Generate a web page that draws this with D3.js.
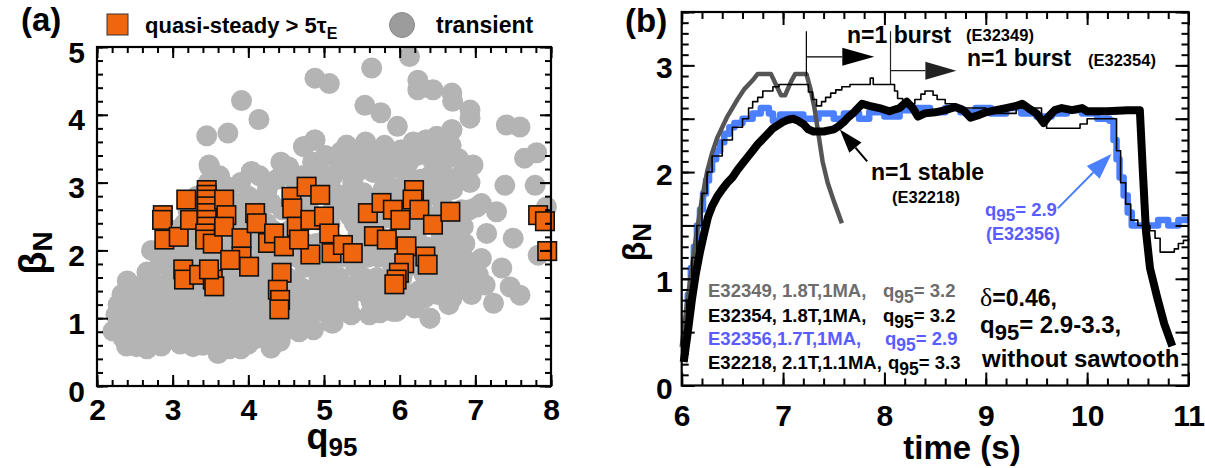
<!DOCTYPE html>
<html><head><meta charset="utf-8">
<script src="https://cdn.jsdelivr.net/npm/d3@7"></script>
<style>
body{margin:0;background:#fff}
svg{display:block;font-family:"Liberation Sans",Arial,sans-serif;font-weight:bold}
</style></head><body>
<svg id="fig" width="1205" height="468"></svg>
<script>
// ---------------- data ----------------
// panel (a): beta_N versus q95
const q95Ticks = [2, 3, 4, 5, 6, 7, 8];
const betaTicksA = [0, 1, 2, 3, 4, 5];

// transient discharges [q95, betaN]
const transient = [
  [2.21,0.81],[2.3,0.95],[2.35,0.7],[2.39,0.59],[2.42,1.1],[2.44,1.37],[2.48,0.85],[2.52,0.58],[2.55,1.25],[2.58,1.0],[2.6,1.5],[2.62,0.72],
  [2.28,1.2],[2.36,0.88],[2.5,1.45],[2.56,0.75],[2.64,1.35],[2.7,1.6],[2.74,1.0],[2.82,1.4],[2.88,1.05],[2.94,1.75],[2.98,1.35],[2.6,0.9],[2.46,1.0],[2.8,0.78],
  [2.66,1.68],[2.68,1.2],[2.7,0.88],[2.72,2.0],[2.75,1.45],[2.78,0.65],[2.8,1.05],[2.83,1.8],[2.85,0.59],[2.86,1.3],[2.9,2.05],[2.92,0.9],[2.95,1.55],[2.97,1.15],[3.0,0.7],[3.0,1.85],
  [3.05,2.3],[3.07,1.0],[3.1,1.4],[3.12,0.75],[3.15,2.0],[3.18,1.7],[3.2,2.6],[3.21,0.75],[3.25,1.2],[3.28,2.25],[3.3,0.95],[3.32,2.8],[3.35,1.55],[3.38,1.85],[3.4,0.6],[3.42,2.45],[3.45,1.1],[3.47,3.0],[3.48,3.26],[3.5,2.1],[3.52,0.85],[3.55,1.4],[3.58,2.7],[3.6,0.48],[3.6,1.7],[3.62,3.1],
  [3.02,1.2],[3.05,0.9],[3.1,1.8],[3.13,1.15],[3.16,2.4],[3.2,0.95],[3.24,1.5],[3.26,1.95],[3.3,2.55],[3.33,1.35],[3.36,0.8],[3.4,2.0],[3.43,1.65],[3.46,2.7],[3.5,1.25],[3.53,2.4],[3.56,0.65],[3.58,1.95],[3.4,1.05],[3.2,1.25],
  [3.65,2.35],[3.68,1.0],[3.7,2.95],[3.72,0.65],[3.75,1.3],[3.78,2.1],[3.8,2.6],[3.82,1.6],[3.85,0.85],[3.88,1.9],[3.9,3.0],[3.92,0.7],[3.93,1.2],[3.95,2.4],[3.98,1.5],[4.0,2.8],[4.02,0.95],
  [3.62,1.2],[3.66,2.0],[3.7,0.85],[3.74,1.5],[3.76,2.75],[3.8,1.05],[3.84,2.25],[3.86,1.35],[3.9,0.55],[3.92,2.7],[3.96,1.05],[3.98,2.1],[3.7,1.75],[3.64,2.6],
  [4.04,3.16],[4.06,1.75],[4.08,2.2],[4.1,1.05],[4.12,2.55],[4.15,3.1],[4.18,1.35],[4.2,0.75],[4.22,2.0],[4.25,2.9],[4.28,1.6],[4.3,0.56],[4.32,2.3],[4.35,1.1],[4.38,3.05],[4.4,1.85],[4.42,0.66],[4.45,2.6],[4.48,1.3],[4.5,3.2],
  [4.03,1.3],[4.06,2.45],[4.1,0.7],[4.13,1.55],[4.16,2.75],[4.2,1.15],[4.24,2.4],[4.27,0.9],[4.3,2.7],[4.33,1.45],[4.36,2.05],[4.4,1.05],[4.43,3.3],[4.46,2.25],[4.48,0.9],[4.14,1.85],[4.34,1.75],
  [4.53,3.23],[4.55,0.87],[4.57,2.0],[4.6,1.55],[4.62,2.85],[4.65,1.05],[4.68,2.35],[4.7,3.1],[4.73,3.53],[4.75,1.75],[4.78,0.95],[4.8,2.6],[4.82,1.3],[4.85,3.3],[4.86,0.83],[4.88,3.63],[4.9,2.1],[4.93,1.55],[4.95,2.9],[4.98,1.1],
  [4.52,1.6],[4.55,2.3],[4.58,1.2],[4.61,2.55],[4.64,1.9],[4.67,0.8],[4.7,1.45],[4.72,2.7],[4.76,2.1],[4.8,1.1],[4.83,3.0],[4.86,1.75],[4.9,1.35],[4.92,2.45],[4.96,3.15],[4.98,1.9],[4.6,3.05],
  [5.02,3.4],[5.05,1.8],[5.08,2.4],[5.1,0.93],[5.12,3.1],[5.15,1.35],[5.18,2.75],[5.2,1.6],[5.22,3.45],[5.25,3.23],[5.28,2.05],[5.3,3.55],[5.32,1.2],[5.35,2.5],[5.38,3.0],[5.39,3.28],[5.42,1.75],[5.45,2.25],[5.48,3.4],[5.5,1.4],
  [5.02,1.25],[5.05,2.2],[5.08,1.55],[5.1,2.9],[5.14,1.1],[5.16,2.1],[5.2,3.2],[5.23,1.9],[5.26,2.6],[5.3,1.45],[5.33,2.85],[5.36,1.05],[5.4,2.4],[5.43,3.15],[5.46,1.55],[5.48,2.7],[5.12,2.6],
  [5.52,2.85],[5.55,3.6],[5.58,1.9],[5.6,2.4],[5.62,1.25],[5.65,3.15],[5.68,2.65],[5.7,1.6],[5.72,3.36],[5.74,1.1],[5.76,2.15],[5.78,2.9],[5.8,3.55],[5.82,1.45],[5.85,2.5],[5.88,3.2],[5.89,1.12],[5.9,1.8],[5.92,2.75],[5.95,3.45],[5.97,1.3],[6.0,2.3],
  [5.52,1.6],[5.56,2.15],[5.58,3.3],[5.62,2.7],[5.66,1.45],[5.68,3.45],[5.72,1.9],[5.75,2.45],[5.78,1.3],[5.82,3.0],[5.84,2.0],[5.87,1.55],[5.9,3.4],[5.93,2.45],[5.96,1.1],[5.98,2.9],[5.6,1.05],
  [6.02,3.48],[6.03,1.6],[6.05,2.95],[6.08,1.2],[6.1,2.55],[6.12,3.3],[6.15,1.85],[6.18,3.6],[6.2,3.58],[6.22,2.2],[6.25,1.4],[6.28,3.05],[6.3,2.7],[6.32,1.65],[6.35,3.63],[6.38,2.4],[6.4,1.0],[6.42,3.35],[6.45,1.9],[6.48,2.85],[6.49,3.68],[6.5,1.35],
  [6.02,1.3],[6.05,2.15],[6.08,3.15],[6.1,1.75],[6.13,2.8],[6.16,1.35],[6.2,2.45],[6.23,3.4],[6.26,1.9],[6.3,2.95],[6.33,1.3],[6.36,2.05],[6.4,3.1],[6.43,1.5],[6.46,2.5],[6.48,3.45],[6.2,1.15],
  [6.53,3.51],[6.55,2.2],[6.58,1.6],[6.6,3.1],[6.62,2.6],[6.65,1.2],[6.68,1.95],[6.69,3.78],[6.69,1.29],[6.7,2.9],[6.73,1.49],[6.75,2.3],[6.78,3.35],[6.8,1.75],[6.82,2.6],[6.86,2.1],[6.9,1.5],[6.93,3.0],
  [6.52,2.0],[6.55,2.75],[6.58,3.3],[6.62,1.8],[6.65,2.45],[6.68,3.55],[6.72,2.1],[6.76,1.6],[6.8,3.1],[6.84,2.35],[6.88,1.85],[6.92,2.6],[6.95,1.35],[6.6,1.4],
  [2.25,1.05],[2.33,1.35],[2.5,0.68],[2.66,0.55],[2.9,0.72],[3.1,0.62],[3.27,0.58],[3.48,0.7],[3.75,0.55],[4.0,0.62],[4.25,0.72],[4.45,0.78],[3.0,1.55],[2.4,1.55],
  // high-beta and high-q95 outliers
  [6.13,4.86],[5.63,4.69],[4.88,4.54],[5.07,4.46],[6.24,4.51],[6.24,4.37],[6.44,4.37],[6.69,4.32],[6.7,4.2],[6.93,4.07],[6.93,3.95],
  [3.91,4.21],[4.14,3.93],[3.45,3.69],[3.73,3.73],[5.54,4.14],[5.75,4.03],[5.97,3.83],[7.41,3.85],[7.59,3.82],[6.69,3.78],
  [6.49,3.68],[6.35,3.63],[6.2,3.58],[6.53,3.51],[6.02,3.48],[5.3,3.55],[4.73,3.53],[4.88,3.63],[5.72,3.36],[6.97,3.26],
  [7.65,3.36],[7.81,3.44],[7.39,2.96],[7.79,2.96],[3.49,3.23],[4.04,3.16],[4.53,3.23],[5.25,3.23],[5.39,3.28],
  [7.08,2.69],[7.28,2.57],[7.94,2.64],[7.5,2.18],[7.15,2.25],[7.83,1.93],[7.35,1.74],[7.46,1.46],[7.59,1.34],[7.24,1.22],
  [7.13,1.49],[7.08,1.88],[7.04,1.64],[7.02,2.64],[6.86,2.1],[6.75,2.3],[6.4,1.0],[5.74,1.08],[5.91,1.1],[5.12,0.93]
];

// quasi-steady discharges (> 5 tau_E) [q95, betaN]
const quasiSteady = [
  [2.87,2.52],[2.86,2.45],[2.89,2.16],[3.08,2.2],[3.18,2.75],[3.23,2.45],[3.14,1.72],[3.15,1.57],[3.35,1.64],
  [3.45,2.89],[3.45,2.82],[3.45,2.75],[3.45,2.65],[3.45,2.55],[3.45,2.45],[3.45,2.35],[3.43,2.25],[3.43,2.16],[3.53,2.1],
  [3.68,2.75],[3.71,2.52],[3.68,2.35],[3.53,1.57],[3.55,1.47],[3.48,1.72],
  [3.91,2.18],[3.91,1.91],[3.76,1.86],[4.01,1.76],[4.09,2.55],[4.11,2.4],[4.26,2.11],[4.34,2.25],[4.47,2.06],
  [4.44,1.67],[4.39,1.42],[4.42,1.27],[4.41,1.13],[4.57,2.79],[4.58,2.62],[4.64,2.35],[4.77,2.94],[4.95,2.82],
  [4.82,2.45],[5.0,2.5],[4.82,1.94],[4.67,2.16],[5.07,2.25],[5.1,1.96],[5.25,2.08],[5.38,1.96],
  [5.58,2.55],[5.66,2.21],[5.83,2.16],[5.76,2.7],[5.91,2.6],[6.01,2.45],[6.19,2.89],[6.17,2.75],[6.26,2.6],
  [6.44,2.38],[6.67,2.57],[6.09,2.06],[6.06,1.81],[5.99,1.67],[5.96,1.57],[5.93,1.5],[6.34,1.91],[6.37,1.79],
  [7.83,2.52],[7.92,2.43],[7.95,1.99]
];

// panel (b): beta_N time traces [time (s), betaN]
const timeTicks = [6, 7, 8, 9, 10, 11];
const betaTicksB = [0, 1, 2, 3];

const shotE32349 = [
  [6.0,0.36],[6.05,0.75],[6.1,1.1],[6.15,1.45],[6.2,1.75],[6.25,2.0],[6.3,2.18],[6.35,2.32],[6.4,2.42],[6.45,2.52],
  [6.5,2.6],[6.55,2.68],[6.62,2.78],[6.7,2.86],[6.75,2.92],[6.88,2.92],[6.94,2.8],[6.98,2.72],[7.02,2.72],[7.08,2.85],
  [7.12,2.92],[7.23,2.92],[7.27,2.78],[7.31,2.6],[7.35,2.35],[7.39,2.1],[7.44,1.9],[7.5,1.73],[7.58,1.52]
];
const shotE32354 = [
  [6.0,0.3],[6.05,0.8],[6.1,1.2],[6.15,1.5],[6.2,1.8],[6.25,2.0],[6.3,2.15],[6.4,2.3],[6.5,2.42],[6.6,2.5],[6.66,2.6],
  [6.7,2.66],[6.75,2.7],[6.8,2.76],[6.9,2.8],[6.96,2.82],[7.25,2.75],[7.29,2.68],[7.33,2.62],[7.38,2.66],[7.42,2.7],
  [7.47,2.74],[7.52,2.77],[7.58,2.8],[7.66,2.82],[7.86,2.88],[7.89,2.82],[8.1,2.76],[8.13,2.69],[8.18,2.64],[8.3,2.68],
  [8.36,2.73],[8.4,2.76],[8.48,2.72],[8.52,2.68],[8.6,2.64],[8.7,2.6],[9.0,2.55],[9.3,2.6],[9.55,2.5],[9.6,2.41],
  [9.93,2.45],[10.0,2.5],[10.25,2.5],[10.29,2.2],[10.33,1.9],[10.38,1.7],[10.43,1.55],[10.5,1.5],[10.62,1.45],
  [10.67,1.38],[10.72,1.25],[10.86,1.28],[10.9,1.33],[10.95,1.36],[11.0,1.38]
];
const shotE32356 = [
  [6.0,0.36],[6.03,0.6],[6.06,0.85],[6.09,1.1],[6.12,1.3],[6.15,1.5],[6.18,1.65],[6.21,1.8],[6.24,1.92],[6.27,2.02],
  [6.3,2.12],[6.34,2.2],[6.38,2.28],[6.42,2.36],[6.47,2.42],[6.52,2.46],[6.6,2.5],[6.7,2.55],[6.78,2.6],[6.86,2.55],
  [6.9,2.48],[6.97,2.54],[7.2,2.5],[7.35,2.55],[7.5,2.5],[7.6,2.55],[7.75,2.5],[7.85,2.56],[8.0,2.52],[8.15,2.58],
  [8.3,2.6],[8.45,2.56],[8.6,2.6],[8.75,2.56],[8.9,2.6],[9.05,2.55],[9.2,2.6],[9.35,2.55],[9.5,2.52],[9.65,2.55],
  [9.8,2.58],[9.95,2.55],[10.1,2.5],[10.22,2.48],[10.26,2.3],[10.29,2.12],[10.32,1.95],[10.36,1.78],[10.4,1.62],
  [10.44,1.5],[10.6,1.5],[10.7,1.55],[10.8,1.5],[10.9,1.55],[11.0,1.55]
];
const shotE32218 = [
  [6.02,0.22],[6.06,0.5],[6.1,0.8],[6.14,1.05],[6.18,1.25],[6.22,1.42],[6.26,1.58],[6.3,1.68],[6.35,1.77],[6.4,1.84],
  [6.45,1.9],[6.5,1.95],[6.55,2.02],[6.6,2.08],[6.65,2.14],[6.7,2.2],[6.75,2.26],[6.8,2.31],[6.85,2.36],[6.9,2.41],
  [6.95,2.44],[7.0,2.47],[7.05,2.49],[7.1,2.5],[7.15,2.48],[7.2,2.45],[7.25,2.4],[7.3,2.38],[7.4,2.38],[7.5,2.4],
  [7.55,2.43],[7.6,2.47],[7.65,2.52],[7.7,2.56],[7.78,2.64],[7.85,2.62],[7.95,2.6],[8.05,2.57],[8.15,2.6],[8.22,2.66],
  [8.28,2.6],[8.33,2.52],[8.4,2.55],[8.5,2.56],[8.6,2.58],[8.7,2.61],[8.78,2.58],[8.85,2.51],[8.92,2.53],[9.0,2.56],
  [9.1,2.58],[9.2,2.6],[9.3,2.62],[9.36,2.64],[9.42,2.6],[9.5,2.55],[9.57,2.46],[9.62,2.52],[9.68,2.58],[9.75,2.6],
  [9.85,2.58],[9.95,2.6],[10.0,2.57],[10.2,2.57],[10.4,2.58],[10.52,2.58],[10.55,2.0],[10.58,1.45],[10.62,1.1],
  [10.69,0.83],[10.76,0.58],[10.84,0.37]
];

const shotRows = [
  {label: "E32349, 1.8T,1MA,", q: "3.2", color: "#6d6d6d"},
  {label: "E32354, 1.8T,1MA,", q: "3.2", color: "#000000"},
  {label: "E32356,1.7T,1MA,", q: "2.9", color: "#5a5cff"},
  {label: "E32218, 2.1T,1.1MA,", q: "3.3", color: "#000000"}
];

// ---------------- drawing ----------------
const svg = d3.select("#fig");
const ORANGE = "#f0660f", GREY_PT = "#b4b4b4", BLUE = "#4a7fff", BLUE_TXT = "#5a5cff";

// text with a subscript: parts = [[str, isSub], ...]
function richText(g, x, y, parts, size, subSize, shift, color, anchor) {
  const t = g.append("text").attr("x", x).attr("y", y)
    .attr("font-size", size).attr("fill", color || "#000")
    .attr("text-anchor", anchor || "start");
  let down = 0;
  parts.forEach(([s, sub]) => {
    const sp = t.append("tspan").text(s);
    if (sub) { sp.attr("font-size", subSize).attr("dy", shift - down); down = shift; }
    else { sp.attr("dy", -down); down = 0; }
  });
  return t;
}

// framed box and numbers on left/bottom
function frame(g, x, y, o) {
  const [x0, x1] = x.range(), yB = y.range()[0], yT = y.range()[1];
  g.append("rect").attr("x", x0).attr("y", yT).attr("width", x1 - x0).attr("height", yB - yT)
    .attr("fill", "none").attr("stroke", "#000").attr("stroke-width", 2.2);
  g.append("g").attr("transform", `translate(0,${yB})`)
    .call(d3.axisBottom(x).tickValues(o.xLabels).tickSize(0).tickPadding(o.xPad).tickFormat(d3.format("d")))
    .call(s => s.select(".domain").remove())
    .call(s => s.selectAll("text").attr("font-size", 30).attr("font-family", "Liberation Sans, Arial").attr("font-weight", "bold").attr("fill", "#000"));
  g.append("g").attr("transform", `translate(${x0},0)`)
    .call(d3.axisLeft(y).tickValues(o.yLabels).tickSize(0).tickPadding(o.yPad).tickFormat(d3.format("d")))
    .call(s => s.select(".domain").remove())
    .call(s => s.selectAll("text").attr("font-size", 30).attr("dy", o.yDy).attr("font-family", "Liberation Sans, Arial").attr("font-weight", "bold").attr("fill", "#000"));
}

// inward ticks on all four sides with D3 axes (minor then major)
function ticks(x, y, o) {
  const [x0, x1] = x.range(), yB = y.range()[0], yT = y.range()[1];
  const layer = svg.append("g").attr("class", "frame-ticks");
  const sides = [
    [() => d3.axisBottom(x), `translate(0,${yB})`, o.xMinor, o.xMajor],
    [() => d3.axisTop(x), `translate(0,${yT})`, o.xMinor, o.xMajor],
    [() => d3.axisLeft(y), `translate(${x0},0)`, o.yMinor, o.yMajor],
    [() => d3.axisRight(y), `translate(${x1},0)`, o.yMinor, o.yMajor]
  ];
  sides.forEach(([mk, tr, minor, major]) => {
    [[minor, o.minorLen], [major, o.majorLen]].forEach(([vals, len]) => {
      const ax = mk().tickValues(vals).tickSizeInner(-len).tickSizeOuter(0).tickFormat(() => "");
      layer.append("g").attr("transform", tr).call(ax)
        .call(s => s.select(".domain").remove())
        .call(s => s.selectAll(".tick line").attr("stroke", "#000").attr("stroke-width", 2));
    });
  });
}

// ---------- panel (a) ----------
const ga = svg.append("g");
const xa = d3.scaleLinear().domain([2, 8]).range([97, 551]);
const ya = d3.scaleLinear().domain([0, 5]).range([386, 47]);

ga.append("g").selectAll("circle").data(transient).join("circle")
  .attr("cx", d => xa(d[0])).attr("cy", d => ya(d[1])).attr("r", 10.5)
  .attr("fill", GREY_PT);

const SQ = 18.5;
ga.append("g").selectAll("rect").data(quasiSteady).join("rect")
  .attr("x", d => xa(d[0]) - SQ / 2).attr("y", d => ya(d[1]) - SQ / 2)
  .attr("width", SQ).attr("height", SQ)
  .attr("fill", ORANGE).attr("stroke", "#111").attr("stroke-width", 1.6);

const tickOptsA = {
  xMinor: d3.range(2, 8.001, 0.2), xMajor: q95Ticks,
  yMinor: d3.range(0, 5.001, 0.2), yMajor: betaTicksA,
  minorLen: 6, majorLen: 11, xLabels: q95Ticks, yLabels: betaTicksA,
  xPad: 13, yPad: 12, yDy: "0.5em"
};
frame(ga, xa, ya, tickOptsA);

richText(ga, 332, 449, [["q", false], ["95", true]], 36, 26, 7, "#000", "middle");
ga.append("g").attr("transform", "translate(46,253) rotate(-90)")
  .call(g => richText(g, 0, 0, [["β", false], ["N", true]], 38, 28, 6, "#000", "middle"));

ga.append("text").attr("x", 21).attr("y", 31).attr("font-size", 33).text("(a)");

// legend
ga.append("rect").attr("x", 107).attr("y", 14).attr("width", 21).attr("height", 21)
  .attr("fill", ORANGE).attr("stroke", "#333").attr("stroke-width", 1);
richText(ga, 145, 33, [["quasi-steady > 5", false], ["τ", false], ["E", true]], 22, 16, 6, "#000");
ga.append("circle").attr("cx", 402).attr("cy", 25).attr("r", 12.5)
  .attr("fill", "#9c9c9c").attr("stroke", "#8a8a8a").attr("stroke-width", 1);
ga.append("text").attr("x", 436).attr("y", 33).attr("font-size", 23).text("transient");

// ---------- panel (b) ----------
const gb = svg.append("g");
const xb = d3.scaleLinear().domain([6, 11]).range([681.7, 1188.5]);
const yb = d3.scaleLinear().domain([0, 3.5]).range([385.5, 12]);

const lineLin = d3.line().x(d => xb(d[0])).y(d => yb(d[1]));
const lineStep = d3.line().x(d => xb(d[0])).y(d => yb(d[1])).curve(d3.curveStepAfter);

const traces = gb.append("g").attr("fill", "none").attr("stroke-linejoin", "round");
traces.append("path").datum(shotE32356).attr("d", lineStep).attr("stroke", BLUE).attr("stroke-width", 6.5);
traces.append("path").datum(shotE32349).attr("d", lineLin).attr("stroke", "#555").attr("stroke-width", 4.5);
traces.append("path").datum(shotE32354).attr("d", lineStep).attr("stroke", "#000").attr("stroke-width", 1.6);
traces.append("path").datum(shotE32218).attr("d", lineLin).attr("stroke", "#000").attr("stroke-width", 8);

const tickOptsB = {
  xMinor: d3.range(6, 11.001, 0.2), xMajor: timeTicks,
  yMinor: d3.range(0, 3.501, 0.1), yMajor: d3.range(0, 3.501, 0.5),
  minorLen: 7, majorLen: 13, xLabels: timeTicks, yLabels: betaTicksB,
  xPad: 19, yPad: 9, yDy: "0.42em"
};
frame(gb, xb, yb, tickOptsB);

// arrow helper in data coordinates
function arrow(g, from, to, color, width, headLen, headHalf) {
  const [ax, ay] = [xb(from[0]), yb(from[1])], [bx, by] = [xb(to[0]), yb(to[1])];
  const L = Math.hypot(bx - ax, by - ay), ux = (bx - ax) / L, uy = (by - ay) / L;
  const cx = bx - ux * headLen, cy = by - uy * headLen;
  g.append("line").attr("x1", ax).attr("y1", ay).attr("x2", cx).attr("y2", cy)
    .attr("stroke", color).attr("stroke-width", width);
  g.append("polygon").attr("fill", color)
    .attr("points", [[bx, by], [cx - uy * headHalf, cy + ux * headHalf], [cx + uy * headHalf, cy - ux * headHalf]].join(" "));
}
function vline(g, t, v0, v1, color) {
  g.append("line").attr("x1", xb(t)).attr("x2", xb(t)).attr("y1", yb(v0)).attr("y2", yb(v1))
    .attr("stroke", color).attr("stroke-width", 1.2);
}

// n=1 burst markers
vline(gb, 7.23, 3.32, 2.9, "#000");
arrow(gb, [7.23, 3.08], [7.9, 3.08], "#000", 1.2, 32, 9);
vline(gb, 8.06, 3.32, 2.82, "#222");
arrow(gb, [8.06, 2.95], [8.71, 2.95], "#222", 1.2, 31, 9);
// n=1 stable and q95 = 2.9 pointers
arrow(gb, [7.83, 2.10], [7.56, 2.40], "#000", 2, 24, 8);
arrow(gb, [9.71, 1.66], [10.24, 2.17], BLUE, 2, 26, 9);

gb.append("text").attr("x", 847).attr("y", 43).attr("font-size", 23).text("n=1 burst");
gb.append("text").attr("x", 966).attr("y", 41).attr("font-size", 16.5).text("(E32349)");
gb.append("text").attr("x", 967).attr("y", 66).attr("font-size", 23).text("n=1 burst");
gb.append("text").attr("x", 1088).attr("y", 66).attr("font-size", 16.5).text("(E32354)");
gb.append("text").attr("x", 871).attr("y", 180).attr("font-size", 23).text("n=1 stable");
gb.append("text").attr("x", 892).attr("y", 203).attr("font-size", 16.5).text("(E32218)");
richText(gb, 985, 216, [["q", false], ["95", true], ["= 2.9", false]], 18.5, 17, 5, BLUE_TXT);
gb.append("text").attr("x", 986).attr("y", 240).attr("font-size", 18).attr("fill", BLUE_TXT).text("(E32356)");

// shot list
const rowY = [297, 322, 345, 369], qX = [883, 883, 885, 888];
shotRows.forEach((r, i) => {
  gb.append("text").attr("x", 708).attr("y", rowY[i]).attr("font-size", 18.5).attr("fill", r.color).text(r.label);
  richText(gb, qX[i], rowY[i], [["q", false], ["95", true], ["= " + r.q, false]], 18.5, 17.5, 6, r.color);
});

// discharge conditions
const cond = gb.append("text").attr("x", 980).attr("y", 306).attr("font-size", 23);
cond.append("tspan").attr("font-family", "Liberation Serif, serif").attr("font-weight", "normal").attr("font-size", 26).text("δ");
cond.append("tspan").text("=0.46,");
richText(gb, 980, 333, [["q", false], ["95", true], ["= 2.9-3.3,", false]], 24, 22, 7, "#000");
gb.append("text").attr("x", 982).attr("y", 367).attr("font-size", 24).text("without sawtooth");

// axis titles
gb.append("text").attr("x", 962).attr("y", 459).attr("font-size", 33).attr("text-anchor", "middle").text("time (s)");
gb.append("g").attr("transform", "translate(645,242) rotate(-90)")
  .call(g => richText(g, 0, 0, [["β", false], ["N", true]], 32, 26, 6, "#000", "middle"));
gb.append("text").attr("x", 625).attr("y", 32).attr("font-size", 33).text("(b)");

// frame ticks for both panels, on top of the marks
ticks(xa, ya, tickOptsA);
ticks(xb, yb, tickOptsB);
</script>
</body></html>
